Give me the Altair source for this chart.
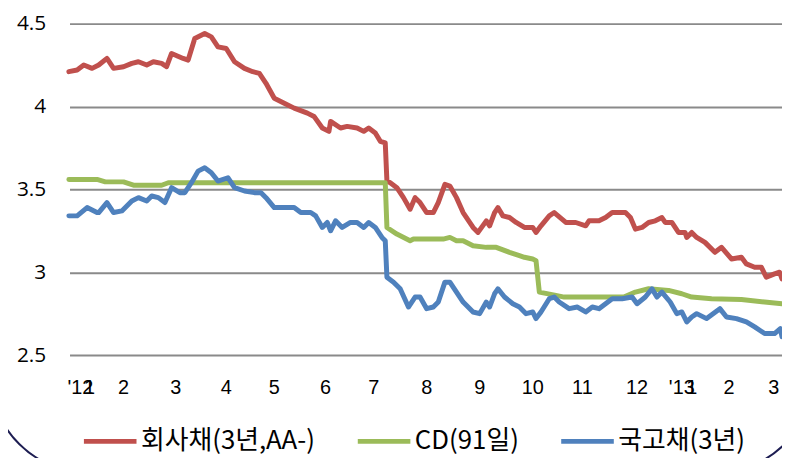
import altair as alt
import pandas as pd

# days since 2012-01-01 and yields (%)
red_day = [2, 7, 11, 16, 20, 25, 29, 35, 40, 44, 49, 53, 58, 61, 64, 71, 74, 78, 84, 88, 92, 97, 102, 108, 113, 117,
           121, 126, 132, 138, 146, 150, 155, 159, 160, 166, 170, 176, 180, 183, 187, 190, 193, 194, 196, 200, 204,
           208, 211, 214, 218, 222, 225, 229, 232, 236, 240, 246, 249, 254, 256, 259, 261, 264, 268, 272, 277, 282,
           284, 287, 292, 295, 302, 308, 314, 316, 322, 326, 330, 334, 338, 341, 344, 348, 352, 356, 360, 362, 366,
           370, 374, 375, 378, 381, 386, 392, 396, 402, 408, 411, 416, 420, 423, 428, 431, 432.5]
red_val = [4.21, 4.22, 4.25, 4.23, 4.25, 4.29, 4.23, 4.24, 4.26, 4.27, 4.25, 4.27, 4.26, 4.24, 4.32, 4.29, 4.28,
           4.41, 4.44, 4.42, 4.36, 4.35, 4.27, 4.23, 4.21, 4.20, 4.14, 4.05, 4.02, 3.99, 3.96, 3.94, 3.87, 3.85,
           3.91, 3.87, 3.88, 3.87, 3.85, 3.87, 3.84, 3.79, 3.78, 3.55, 3.54, 3.51, 3.45, 3.38, 3.45, 3.42, 3.36,
           3.36, 3.42, 3.53, 3.52, 3.45, 3.36, 3.27, 3.24, 3.31, 3.28, 3.36, 3.39, 3.34, 3.33, 3.30, 3.27, 3.27,
           3.24, 3.28, 3.34, 3.36, 3.30, 3.30, 3.28, 3.31, 3.31, 3.33, 3.36, 3.36, 3.36, 3.33, 3.26, 3.27, 3.30,
           3.31, 3.33, 3.30, 3.30, 3.24, 3.24, 3.21, 3.24, 3.21, 3.18, 3.12, 3.15, 3.08, 3.09, 3.05, 3.03, 3.03,
           2.97, 2.99, 3.00, 2.96]

green_day = [2, 19, 24, 35, 41, 58, 62, 193, 194, 200, 208, 210, 228, 232, 236, 240, 246, 254, 260, 268, 274, 277,
             282, 284, 286, 296, 301, 328, 337, 344, 352, 364, 372, 378, 390, 408, 422, 432.5]
green_val = [3.56, 3.56, 3.545, 3.545, 3.525, 3.525, 3.54, 3.54, 3.27, 3.23, 3.19, 3.20, 3.20, 3.21, 3.19, 3.19,
             3.16, 3.15, 3.15, 3.12, 3.10, 3.09, 3.08, 3.07, 2.88, 2.86, 2.85, 2.85, 2.85, 2.88, 2.90, 2.89, 2.87,
             2.85, 2.84, 2.835, 2.82, 2.81]

blue_day = [2, 7, 13, 19, 20, 25, 29, 34, 40, 44, 49, 52, 56, 60, 64, 69, 72, 76, 80, 84, 88, 92, 98, 102, 108,
            114, 118, 121, 126, 132, 138, 142, 148, 151, 155, 158, 160, 163, 167, 172, 176, 180, 183, 187, 191,
            193, 194, 198, 202, 207, 211, 214, 218, 222, 225, 229, 232, 236, 240, 246, 250, 254, 256, 259, 261,
            265, 270, 274, 278, 282, 284, 287, 292, 295, 298, 304, 309, 314, 318, 322, 326, 330, 336, 342, 345,
            350, 354, 357, 360, 365, 369, 372, 375, 378, 381, 387, 395, 399, 405, 411, 416, 422, 428, 431.5, 432.5]
blue_val = [3.34, 3.34, 3.39, 3.36, 3.36, 3.42, 3.36, 3.37, 3.43, 3.45, 3.43, 3.46, 3.45, 3.42, 3.51, 3.48, 3.48,
            3.54, 3.61, 3.63, 3.60, 3.55, 3.57, 3.51, 3.49, 3.48, 3.48, 3.45, 3.39, 3.39, 3.39, 3.36, 3.36, 3.34,
            3.27, 3.30, 3.25, 3.31, 3.27, 3.30, 3.30, 3.27, 3.30, 3.27, 3.21, 3.19, 2.97, 2.94, 2.90, 2.79, 2.85,
            2.85, 2.78, 2.79, 2.82, 2.94, 2.94, 2.88, 2.82, 2.76, 2.75, 2.82, 2.79, 2.87, 2.90, 2.85, 2.81, 2.79,
            2.75, 2.76, 2.72, 2.76, 2.84, 2.85, 2.82, 2.78, 2.79, 2.76, 2.79, 2.78, 2.81, 2.84, 2.84, 2.85, 2.81,
            2.85, 2.90, 2.85, 2.88, 2.82, 2.75, 2.76, 2.70, 2.73, 2.75, 2.72, 2.78, 2.73, 2.72, 2.70, 2.67, 2.63,
            2.63, 2.66, 2.61]

series_names = ["회사채(3년,AA-)", "CD(91일)", "국고채(3년)"]
series_colors = ["#C0504D", "#9BBB59", "#4F81BD"]

tick_day = [9, 14.5, 35, 66.5, 97, 126, 157, 186, 218, 250, 282, 312, 345, 372, 378, 400.5, 427.5]
tick_text = ["'12", "1", "2", "3", "4", "5", "6", "7", "8", "9", "10", "11", "12", "'13", "1", "2", "3"]

y_ticks = [2.5, 3, 3.5, 4, 4.5]

rows = []
for name, days, vals in zip(series_names, [red_day, green_day, blue_day], [red_val, green_val, blue_val]):
    for i, (d, v) in enumerate(zip(days, vals)):
        rows.append({"series": name, "day": d, "value": v, "order": i})
df = pd.DataFrame(rows)
ticks_df = pd.DataFrame({"day": tick_day, "label": tick_text})

W, H = 718, 334
xscale = alt.Scale(domain=[2.4, 432.5], nice=False, zero=False)
yscale = alt.Scale(domain=[2.5, 4.5], nice=False, zero=False)

frame = alt.Chart(alt.Data(values=[{"k": 1}])).mark_rect(
    fill=None, filled=False, stroke="#1d1d52", strokeWidth=2, cornerRadius=100
).encode(x=alt.value(-80), x2=alt.value(750), y=alt.value(-68), y2=alt.value(453))

lines = alt.Chart(df).mark_line(strokeWidth=5, strokeJoin="round", strokeCap="round").encode(
    x=alt.X("day:Q", scale=xscale, axis=None),
    y=alt.Y("value:Q", scale=yscale,
            axis=alt.Axis(values=y_ticks, format=".1~f", title=None, domain=False, ticks=False,
                          labelFontSize=21, labelFont="Open Sans", labelColor="#000000",
                          labelPadding=24, grid=True, gridColor="#8a8a8a", gridWidth=2)),
    color=alt.Color("series:N", scale=alt.Scale(domain=series_names, range=series_colors),
                    legend=alt.Legend(title=None, orient="none", legendX=12, legendY=392,
                                      direction="horizontal", symbolSize=2809,
                                      symbolStrokeWidth=5, labelFont="Noto Sans CJK KR",
                                      labelFontSize=26, labelColor="#000000", labelLimit=500,
                                      labelOffset=2, columnPadding=32)),
    order="order:Q",
)

labels = alt.Chart(ticks_df).mark_text(
    fontSize=20, font="Liberation Sans", baseline="alphabetic", align="center", color="#000000"
).encode(x=alt.X("day:Q", scale=xscale, axis=None), y=alt.value(373), text="label:N")

chart = alt.layer(frame, lines, labels).properties(
    width=W, height=H,
    autosize=alt.AutoSizeParams(type="none"),
    padding={"left": 62, "top": 14, "right": 0, "bottom": 104},
).configure_view(stroke=None)

chart.save("out.html", embed_options={"renderer": "svg", "actions": False})
